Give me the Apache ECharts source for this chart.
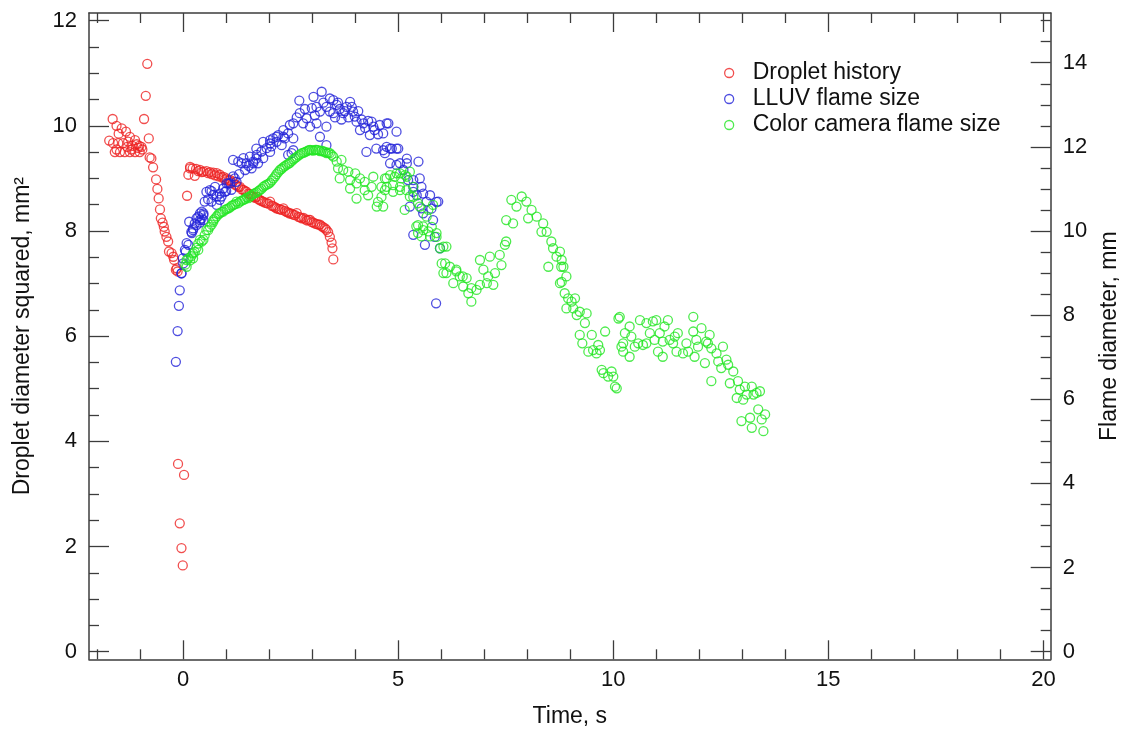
<!DOCTYPE html>
<html>
<head>
<meta charset="utf-8">
<script src="https://cdn.jsdelivr.net/npm/echarts@6/dist/echarts.min.js"></script>
<style>
html,body{margin:0;padding:0;background:#fff;}
#chart{width:1124px;height:729px;}
</style>
</head>
<body>
<div id="chart"></div>
<script>
// ---- Data (time s, value) ----
const dropletHistory = [
[-1.72,9.72],[-1.64,10.13],[-1.63,9.67],[-1.59,9.50],[-1.55,10.0],[-1.51,9.67],[-1.50,9.85],[-1.47,9.50],[-1.43,9.95],[-1.40,9.67],
[-1.36,9.50],[-1.33,9.89],[-1.30,9.60],[-1.28,9.70],[-1.24,9.79],[-1.24,9.50],[-1.18,9.62],[-1.12,9.73],[-1.12,9.50],[-1.08,9.65],
[-1.02,9.62],[-1.01,9.50],[-0.97,9.60],[-0.95,9.55],[-1.55,9.55],[-1.20,9.55],[-1.05,9.58],
[-0.91,10.13],[-0.87,10.57],[-0.835,11.18],[-0.80,9.76],
[-0.78,9.40],[-0.74,9.38],[-0.70,9.21],[-0.63,8.98],[-0.60,8.80],[-0.57,8.62],[-0.54,8.41],[-0.52,8.24],[-0.48,8.16],[-0.45,8.08],
[-0.43,7.99],[-0.39,7.89],[-0.35,7.80],[-0.33,7.61],[-0.27,7.58],[-0.23,7.51],[-0.21,7.45],[-0.17,7.26],[-0.15,7.29],[-0.13,7.23],
[-0.12,3.57],[0.02,3.36],[-0.08,2.44],[-0.04,1.97],[-0.01,1.64],
[0.09,8.67],[0.12,9.07],[0.16,9.19],[0.16,9.22],[0.22,9.19],[0.27,9.05],[0.30,9.18],[0.35,9.14],[0.39,9.16],[0.43,9.12],
[0.47,9.13],[0.54,9.14],[0.58,9.10],[0.62,9.12],[0.66,9.08],[0.70,9.11],[0.74,9.06],[0.78,9.10],[0.82,9.04],[0.85,9.07],
[0.90,9.02],[0.94,9.03],[0.97,8.98],[1.01,9.00],[1.05,8.96],[1.09,8.97],[1.12,8.92],[1.16,8.94],[1.20,8.88],[1.24,8.87],
[1.28,8.84],[1.32,8.84],[1.36,8.79],[1.40,8.78],[1.44,8.76],[1.47,8.75],[1.51,8.71],[1.55,8.70],[1.59,8.66],[1.63,8.65],
[1.67,8.63],[1.71,8.65],[1.75,8.60],[1.78,8.59],[1.82,8.57],[1.86,8.56],[1.90,8.54],[1.94,8.53],[1.98,8.52],[2.02,8.56],
[2.06,8.48],[2.10,8.47],[2.14,8.45],[2.17,8.43],[2.21,8.42],[2.25,8.41],[2.29,8.40],[2.33,8.43],[2.37,8.38],[2.41,8.36],
[2.45,8.35],[2.48,8.33],[2.52,8.33],[2.56,8.31],[2.60,8.30],[2.64,8.34],[2.68,8.27],[2.72,8.26],[2.76,8.24],[2.80,8.25],
[2.84,8.22],[2.88,8.20],[2.92,8.21],[2.95,8.21],[2.99,8.17],[3.03,8.16],[3.07,8.14],[3.11,8.13],[3.15,8.12],[3.18,8.12],
[3.22,8.09],[3.26,8.07],[3.30,8.05],[3.33,8.02],[3.37,7.98],[3.41,7.89],[3.45,7.78],[3.47,7.67],[3.49,7.46]
];

const lluvFlameSize = [
[-0.17,6.89],[-0.13,7.62],[-0.10,8.22],[-0.08,8.59],[-0.04,8.99],[-0.04,9.0],[-0.01,9.35],[0.0,9.23],[0.04,9.55],[0.06,9.51],
[0.08,9.71],[0.12,9.67],[0.14,10.22],[0.19,9.98],[0.20,9.95],[0.23,10.06],[0.23,10.02],[0.27,10.18],[0.31,10.14],[0.31,10.30],
[0.35,10.34],[0.39,10.20],[0.39,10.26],[0.39,10.42],[0.43,10.30],[0.43,10.46],[0.47,10.42],[0.47,10.26],[0.47,10.38],[0.50,10.70],
[0.54,10.93],[0.58,10.75],[0.62,10.97],[0.66,10.70],[0.66,10.95],[0.70,10.86],[0.74,11.05],[0.78,10.82],[0.78,10.62],[0.85,10.89],
[0.85,10.74],[0.89,10.82],[0.93,11.01],[0.97,10.93],[1.00,10.95],[1.01,11.13],[1.05,11.13],[1.09,11.13],[1.12,10.98],[1.16,11.69],
[1.16,11.30],[1.20,11.25],[1.24,11.17],[1.28,11.65],[1.30,11.35],[1.36,11.61],[1.40,11.73],[1.44,11.45],[1.47,11.61],[1.52,11.55],
[1.55,11.77],[1.59,11.49],[1.63,11.65],[1.63,11.61],[1.71,11.81],[1.70,11.96],[1.70,11.72],[1.74,11.61],[1.82,11.89],
[1.86,11.73],[1.86,12.12],[1.94,11.97],[2.02,12.08],[2.02,12.16],[2.02,11.88],[2.05,12.01],[2.09,12.20],[2.17,12.12],[2.17,12.24],
[2.21,12.28],[2.29,12.04],[2.33,12.40],[2.33,12.24],[2.36,12.20],[2.44,12.32],[2.44,11.81],[2.48,12.52],[2.52,11.85],[2.56,12.20],
[2.56,12.56],[2.56,11.92],[2.64,12.70],[2.70,13.10],[2.71,12.80],[2.79,12.56],[2.83,12.90],[2.87,12.68],[2.95,12.48],[2.99,12.92],
[3.03,13.19],[3.06,12.75],[3.10,12.95],[3.10,12.56],[3.18,12.84],[3.18,12.24],[3.22,13.31],[3.26,13.05],[3.33,12.95],[3.33,12.48],
[3.33,12.04],[3.41,13.15],[3.41,12.84],[3.49,13.11],[3.49,12.80],[3.53,12.70],[3.57,13.00],[3.60,13.05],[3.64,12.90],[3.68,12.65],
[3.72,12.80],[3.76,12.85],[3.80,12.95],[3.84,12.70],[3.88,13.07],[3.92,12.95],[3.95,12.84],[3.99,12.72],[4.03,12.60],[4.07,12.85],
[4.11,12.40],[4.15,12.65],[4.19,12.56],[4.23,12.45],[4.26,11.88],[4.30,12.62],[4.34,12.28],[4.38,12.60],[4.42,12.48],[4.45,12.40],
[4.49,11.96],[4.53,12.30],[4.57,12.52],[4.65,11.92],[4.65,12.32],[4.69,11.85],[4.73,12.56],[4.73,12.00],[4.77,12.56],[4.81,11.96],
[4.81,11.61],[4.85,11.96],[4.96,12.36],[4.96,11.96],[4.96,11.57],[5.00,11.96],[5.04,11.61],[5.12,11.45],[5.20,11.61],[5.20,11.72],
[5.23,11.21],[5.27,10.58],[5.35,11.21],[5.35,11.05],[5.35,10.93],[5.35,9.91],[5.43,10.85],[5.47,11.65],[5.50,11.25],[5.54,11.05],
[5.54,10.54],[5.58,10.89],[5.58,10.42],[5.62,9.67],[5.66,10.70],[5.74,10.85],[5.77,10.53],[5.81,10.26],[5.89,10.69],[5.93,10.70],
[5.97,9.59],[5.85,9.86],[5.88,8.28]
];

const colorCameraFlameSize = [
[0.05,9.20],[0.08,9.15],[0.08,9.31],[0.12,9.35],[0.16,9.30],[0.19,9.40],[0.23,9.35],[0.23,9.47],[0.27,9.50],[0.31,9.60],
[0.35,9.55],[0.35,9.70],[0.39,9.79],[0.43,9.75],[0.47,9.79],[0.50,9.90],[0.54,10.02],[0.58,10.02],[0.62,10.10],[0.66,10.15],
[0.70,10.22],[0.70,10.26],[0.74,10.30],[0.78,10.35],[0.82,10.40],[0.85,10.42],[0.89,10.45],[0.93,10.46],[0.97,10.50],[1.01,10.52],
[1.05,10.54],[1.09,10.56],[1.13,10.60],[1.17,10.62],[1.21,10.64],[1.24,10.70],[1.28,10.66],[1.32,10.70],[1.36,10.72],[1.40,10.74],
[1.44,10.76],[1.48,10.80],[1.52,10.78],[1.55,10.82],[1.59,10.85],[1.63,10.88],[1.67,10.90],[1.71,10.92],[1.75,10.95],[1.78,10.97],
[1.82,11.00],[1.86,11.05],[1.90,11.08],[1.94,11.10],[1.98,11.12],[2.02,11.15],[2.06,11.20],[2.10,11.25],[2.14,11.30],[2.17,11.35],
[2.21,11.40],[2.25,11.45],[2.29,11.48],[2.33,11.52],[2.37,11.55],[2.41,11.58],[2.45,11.60],[2.48,11.62],[2.52,11.66],[2.56,11.70],
[2.60,11.73],[2.64,11.76],[2.68,11.80],[2.72,11.82],[2.76,11.85],[2.80,11.86],[2.84,11.88],[2.88,11.90],[2.92,11.92],[2.95,11.93],
[2.99,11.92],[3.03,11.91],[3.07,11.93],[3.10,11.93],[3.14,11.92],[3.18,11.90],[3.22,11.91],[3.26,11.89],[3.30,11.88],[3.33,11.85],
[3.37,11.86],[3.41,11.85],[3.45,11.81],[3.49,11.77],
[3.57,11.65],[3.60,11.49],[3.64,11.25],[3.68,11.69],[3.72,11.45],[3.84,11.41],[3.88,11.21],[3.88,11.01],[4.00,11.37],[4.03,11.13],
[4.03,10.77],[4.11,11.25],[4.22,11.17],[4.22,10.97],[4.30,10.85],[4.38,11.05],[4.42,11.29],[4.50,10.58],[4.53,10.69],[4.61,11.05],
[4.61,10.81],[4.65,10.58],[4.69,10.97],[4.69,11.25],[4.73,11.25],[4.73,11.05],[4.81,11.33],[4.88,11.09],[4.88,10.93],[4.92,11.29],
[4.96,11.37],[5.04,11.37],[5.04,10.97],[5.04,11.05],[5.07,11.25],[5.15,10.50],[5.16,11.33],[5.19,10.97],[5.20,11.29],[5.27,11.41],
[5.27,10.82],[5.35,11.05],[5.35,10.81],[5.42,10.11],[5.46,10.66],[5.46,9.95],[5.46,10.14],[5.50,10.58],[5.54,9.87],[5.58,10.11],
[5.58,10.02],[5.66,10.34],[5.70,9.99],[5.70,10.50],[5.74,9.87],[5.78,10.10],[5.81,10.62],[5.89,9.95],[5.89,9.86],[5.97,9.59],
[6.01,9.23],[6.05,9.63],[6.05,9.00],[6.09,9.23],[6.12,9.63],[6.12,9.00],[6.20,9.15],[6.28,8.76],[6.35,9.08],[6.35,9.04],
[6.43,8.92],[6.50,8.92],[6.51,8.68],[6.59,8.88],[6.63,8.52],[6.70,8.64],[6.70,8.32],[6.82,8.60],[6.90,9.31],[6.90,8.72],
[6.98,9.08],[7.06,8.76],[7.09,8.92],[7.13,9.39],[7.21,8.72],[7.25,9.00],[7.36,9.43],[7.40,9.19],[7.48,9.67],[7.51,9.75],
[7.51,10.26],[7.63,10.74],[7.67,10.18],[7.75,10.58],[7.87,10.82],[7.98,10.70],[8.02,10.30],[8.10,10.50],[8.22,10.34],[8.33,9.98],
[8.37,10.18],[8.45,9.98],[8.49,9.15],[8.56,9.75],[8.60,9.59],[8.68,9.39],[8.76,8.76],[8.76,9.51],[8.79,9.15],[8.80,9.31],
[8.80,8.79],[8.84,9.15],[8.87,8.52],[8.91,8.92],[8.91,8.16],[8.95,8.40],[9.03,8.32],[9.07,8.16],[9.11,8.40],[9.15,8.00],
[9.22,8.08],[9.22,7.53],[9.28,7.33],[9.34,7.81],[9.38,8.04],[9.42,7.13],[9.50,7.53],[9.53,7.17],[9.61,7.09],[9.65,7.29],
[9.69,7.17],[9.73,6.70],[9.77,6.62],[9.81,7.61],[9.88,6.54],[9.96,6.66],[10.00,6.54],[10.04,6.30],[10.08,6.26],[10.12,7.92],
[10.15,7.96],[10.19,7.25],[10.23,7.33],[10.23,7.13],[10.27,7.57],[10.38,7.73],[10.38,7.01],[10.42,7.49],[10.50,7.25],[10.58,7.33],
[10.62,7.88],[10.69,7.29],[10.77,7.81],[10.77,7.33],[10.85,7.57],[10.92,7.85],[10.96,7.41],[11.00,7.88],[11.04,7.13],[11.08,7.57],
[11.15,7.37],[11.15,7.01],[11.19,7.73],[11.27,7.88],[11.31,7.41],[11.39,7.33],[11.43,7.49],[11.47,7.13],[11.50,7.57],[11.62,7.09],
[11.70,7.33],[11.74,7.13],[11.86,7.96],[11.86,7.61],[11.89,7.01],[11.93,7.41],[11.97,7.25],[12.05,7.69],[12.13,6.86],[12.16,7.37],
[12.20,7.33],[12.24,7.53],[12.28,7.21],[12.28,6.43],[12.40,7.09],[12.44,6.90],[12.51,6.74],[12.55,7.25],[12.63,6.94],[12.67,6.82],
[12.71,6.38],[12.79,6.66],[12.87,6.03],[12.90,6.43],[12.94,6.23],[12.98,5.48],[13.02,5.99],[13.06,6.30],[13.10,6.11],[13.18,5.56],
[13.22,6.30],[13.22,5.32],[13.26,6.11],[13.33,6.15],[13.37,5.76],[13.41,6.19],[13.45,5.52],[13.49,5.24],[13.53,5.64]
];

// ---- Axis ticks ----
const xMajorTicks = [0, 5, 10, 15, 20];
const xMinorTicks = [-2, -1, 1, 2, 3, 4, 6, 7, 8, 9, 11, 12, 13, 14, 16, 17, 18, 19];
const leftMajorTicks = [0, 2, 4, 6, 8, 10, 12];
const rightMajorTicks = [0, 2, 4, 6, 8, 10, 12, 14];
const leftMinorTicks = [];
for (let v = 0.5; v <= 12; v += 0.5) if (v % 2 !== 0) leftMinorTicks.push(v);
const rightMinorTicks = [];
for (let v = 0.5; v <= 15; v += 0.5) if (v % 2 !== 0) rightMinorTicks.push(v);

const seriesNames = ['Droplet history', 'LLUV flame size', 'Color camera flame size'];
const seriesColors = ['#ee2222', '#2222d8', '#22e622'];

const FONT = 'Liberation Sans, Arial, sans-serif';
const AX = '#3c3c3c';
const X_MIN = -2.19, X_MAX = 20.17;
const L_MIN = -0.146, L_MAX = 12.146;
const R_MIN = -0.1825, R_MAX = 15.1825;

function xAxisDef(pos, ticks, len, showLine, showLabel) {
  return {
    type: 'value', position: pos, min: X_MIN, max: X_MAX,
    axisLine: { show: showLine, onZero: false, lineStyle: { color: AX, width: 1.5 } },
    axisTick: { show: true, inside: true, length: len, customValues: ticks, lineStyle: { color: AX, width: 1.3 } },
    axisLabel: { show: showLabel, customValues: ticks, margin: 10, fontSize: 22, color: '#111', fontFamily: FONT },
    splitLine: { show: false }
  };
}
function yAxisDef(pos, min, max, ticks, len, showLine, showLabel) {
  return {
    type: 'value', position: pos, min: min, max: max,
    axisLine: { show: showLine, onZero: false, lineStyle: { color: AX, width: 1.5 } },
    axisTick: { show: true, inside: true, length: len, customValues: ticks, lineStyle: { color: AX, width: 1.3 } },
    axisLabel: { show: showLabel, customValues: ticks, margin: 12, fontSize: 22, color: '#111', fontFamily: FONT },
    splitLine: { show: false }
  };
}

const xAxes = [
  Object.assign(xAxisDef('bottom', xMajorTicks, 19, true, true), {
    name: 'Time, s', nameLocation: 'middle', nameGap: 46,
    nameTextStyle: { fontSize: 23, color: '#111', fontFamily: FONT }
  }),
  xAxisDef('bottom', xMinorTicks, 10, false, false),
  xAxisDef('top', xMajorTicks, 19, true, false),
  xAxisDef('top', xMinorTicks, 10, false, false)
];
const yAxes = [
  Object.assign(yAxisDef('left', L_MIN, L_MAX, leftMajorTicks, 20, true, true), {
    name: 'Droplet diameter squared, mm²', nameLocation: 'middle', nameGap: 55, nameRotate: 90,
    nameTextStyle: { fontSize: 23, color: '#111', fontFamily: FONT }
  }),
  yAxisDef('left', L_MIN, L_MAX, leftMinorTicks, 10, false, false),
  Object.assign(yAxisDef('right', R_MIN, R_MAX, rightMajorTicks, 20, true, true), {
    name: 'Flame diameter, mm', nameLocation: 'middle', nameGap: 47, nameRotate: 90,
    nameTextStyle: { fontSize: 23, color: '#111', fontFamily: FONT }
  }),
  yAxisDef('right', R_MIN, R_MAX, rightMinorTicks, 10, false, false)
];

function scatter(i, data, yIdx) {
  return {
    name: seriesNames[i], type: 'scatter', data: data,
    xAxisIndex: 0, yAxisIndex: yIdx,
    symbol: 'circle', symbolSize: 9,
    itemStyle: { color: 'rgba(0,0,0,0)', borderColor: seriesColors[i], borderWidth: 1.3 },
    emphasis: { disabled: true }
  };
}

const chart = echarts.init(document.getElementById('chart'), null, { renderer: 'canvas' });
chart.setOption({
  animation: false,
  backgroundColor: '#ffffff',
  grid: { left: 89, top: 13, right: 73.3, bottom: 69.7, containLabel: false, outerBoundsMode: 'none' },
  legend: {
    orient: 'vertical', left: 719, top: 55,
    itemWidth: 9, itemHeight: 9, itemGap: 0,
    textStyle: { fontSize: 23, color: '#111', fontFamily: FONT, lineHeight: 26, padding: [0, 0, 0, 14] },
    data: seriesNames.map((n, i) => ({
      name: n, icon: 'circle',
      itemStyle: { color: 'rgba(0,0,0,0)', borderColor: seriesColors[i], borderWidth: 1.3 }
    }))
  },
  xAxis: xAxes,
  yAxis: yAxes,
  series: [
    scatter(0, dropletHistory, 0),
    scatter(1, lluvFlameSize, 2),
    scatter(2, colorCameraFlameSize, 2)
  ]
});
</script>
</body>
</html>
